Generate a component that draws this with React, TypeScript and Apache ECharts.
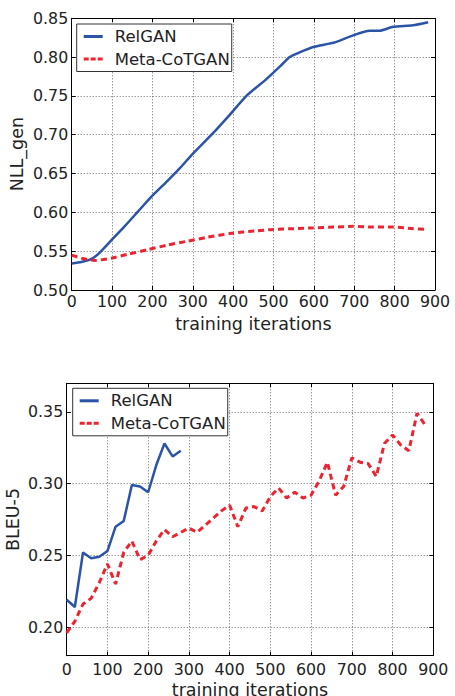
import React, { useEffect, useRef } from "react";
import * as echarts from "echarts";

// ---------- data ----------
const legendNames = ["RelGAN", "Meta-CoTGAN"];
const xTitle = "training iterations";
const topYTitle = "NLL_gen";
const bottomYTitle = "BLEU-5";

// top chart: NLL_gen vs training iterations
const topRelGAN: [number, number][] = [
  [0, 0.534], [24, 0.536], [45, 0.539], [65, 0.546], [98, 0.564], [131, 0.582],
  [164, 0.601], [197, 0.62], [238, 0.641], [268, 0.657], [301, 0.676], [350, 0.702],
  [392, 0.726], [433, 0.75], [483, 0.772], [516, 0.788], [540, 0.8], [560, 0.805],
  [598, 0.813], [652, 0.819], [697, 0.828], [738, 0.834], [763, 0.834], [796, 0.839],
  [845, 0.841], [883, 0.845],
];
const topMeta: [number, number][] = [
  [0, 0.545], [24, 0.541], [57, 0.538], [98, 0.541], [139, 0.546], [189, 0.552],
  [238, 0.558], [288, 0.563], [337, 0.568], [395, 0.573], [453, 0.576], [499, 0.578],
  [550, 0.579], [598, 0.58], [650, 0.581], [697, 0.582], [747, 0.581], [796, 0.581],
  [846, 0.579], [879, 0.578],
];

// bottom chart: BLEU-5, evaluated every 20 iterations
const bottomRelGANIters = [0, 20, 40, 60, 80, 100, 120, 140, 160, 180, 200, 220, 240, 260, 280];
const bottomRelGANVals = [0.219, 0.214, 0.252, 0.248, 0.249, 0.253, 0.27, 0.274, 0.299, 0.298, 0.294, 0.313, 0.328, 0.319, 0.323];
const bottomMetaIters = [
  0, 20, 40, 60, 80, 100, 120, 140, 160, 180, 200, 220, 240, 260, 280, 300, 320, 340, 360, 380,
  400, 420, 440, 460, 480, 500, 520, 540, 560, 580, 600, 620, 640, 660, 680, 700, 720, 740, 760,
  780, 800, 820, 840, 860, 880,
];
const bottomMetaVals = [
  0.196, 0.204, 0.216, 0.22, 0.231, 0.244, 0.23, 0.252, 0.26, 0.247, 0.25, 0.26, 0.268, 0.263,
  0.266, 0.269, 0.266, 0.271, 0.276, 0.281, 0.285, 0.27, 0.283, 0.284, 0.281, 0.291, 0.297,
  0.29, 0.294, 0.29, 0.292, 0.302, 0.315, 0.292, 0.298, 0.318, 0.315, 0.314, 0.305, 0.328,
  0.334, 0.327, 0.323, 0.349, 0.341,
];

const BLUE = "#2b54a6";
const RED = "#ec2430";
const FONT = "DejaVu Sans";
const TXT = "#222";

export default function App() {
  const ref = useRef<HTMLDivElement>(null);
  useEffect(() => {
    if (!ref.current) return;
    const chart = echarts.init(ref.current, undefined, { renderer: "svg" });
    const fmt = (v: number) => v.toFixed(2);
    const gridLine = { show: true, lineStyle: { type: [1, 2] as any, color: "#444", width: 0.8 } };
    const tick = { show: true, inside: true, length: 4, lineStyle: { color: "#000", width: 1 } };
    const line = { show: true, onZero: false, lineStyle: { color: "#000", width: 1 } };
    const nameStyle = { fontSize: 17.5, fontFamily: FONT, color: TXT };
    const labelStyle = { fontSize: 15.8, fontFamily: FONT, color: TXT };

    const xMain = (gridIndex: number, margin: number) => ({
      type: "value", gridIndex, min: 0, max: 900, interval: 100, position: "bottom",
      axisLine: line, axisTick: tick, splitLine: gridLine,
      axisLabel: { ...labelStyle, margin },
      name: xTitle, nameLocation: "middle", nameGap: 25, nameMoveOverlap: false, nameTextStyle: nameStyle,
    });
    const xTop = (gridIndex: number) => ({
      type: "value", gridIndex, min: 0, max: 900, interval: 100, position: "top",
      axisLine: line, axisTick: tick, splitLine: { show: false }, axisLabel: { show: false },
    });

    const solidIcon = "path://M0,0h19v3h-19z";
    const dashIcon = "path://M0,0h5v3h-5z M7,0h5v3h-5z M14,0h5v3h-5z";
    const legendBase = {
      orient: "vertical",
      data: [
        { name: legendNames[0], icon: solidIcon },
        { name: legendNames[1], icon: dashIcon },
      ],
      borderColor: "#333", borderWidth: 1,
      borderRadius: 0, padding: [4, 2, 4, 7], itemGap: 5.5, itemWidth: 19, itemHeight: 3,
      backgroundColor: "#fff", selectedMode: false,
      textStyle: { fontSize: 16.5, fontFamily: FONT, color: TXT, padding: [0, 0, 0, 7], lineHeight: 17 },
    };

    chart.setOption({
      animation: false,
      grid: [
        { left: 71.7, top: 18.3, width: 363.3, height: 271.7, outerBoundsMode: "none", containLabel: false },
        { left: 66.7, top: 383.3, width: 366.6, height: 272.4, outerBoundsMode: "none", containLabel: false },
      ],
      xAxis: [xMain(0, 3), xTop(0), xMain(1, 6), xTop(1)],
      yAxis: [
        {
          type: "value", gridIndex: 0, min: 0.5, max: 0.85, interval: 0.05, position: "left",
          axisLine: line, axisTick: tick, splitLine: gridLine,
          axisLabel: { ...labelStyle, margin: 3.5, formatter: fmt },
          name: topYTitle, nameLocation: "middle", nameGap: 46, nameMoveOverlap: false, nameTextStyle: nameStyle,
        },
        {
          type: "value", gridIndex: 0, min: 0.5, max: 0.85, interval: 0.05, position: "right",
          axisLine: line, axisTick: tick, splitLine: { show: false }, axisLabel: { show: false },
        },
        {
          type: "value", gridIndex: 1, min: 0.18, max: 0.37, splitNumber: 4, position: "left",
          axisLine: line, axisTick: tick, splitLine: gridLine,
          axisLabel: { ...labelStyle, margin: 3.5, formatter: fmt, showMinLabel: false, showMaxLabel: false },
          name: bottomYTitle, nameLocation: "middle", nameGap: 44.5, nameMoveOverlap: false, nameTextStyle: nameStyle,
        },
        {
          type: "value", gridIndex: 1, min: 0.18, max: 0.37, splitNumber: 4, position: "right",
          axisLine: line, axisTick: tick, splitLine: { show: false }, axisLabel: { show: false },
        },
      ],
      legend: [
        { ...legendBase, left: 76.7, top: 24 },
        { ...legendBase, left: 72.7, top: 388.3 },
      ],
      series: [
        {
          type: "line", name: legendNames[0], xAxisIndex: 0, yAxisIndex: 0, data: topRelGAN,
          symbol: "none", smooth: 0.2, lineStyle: { color: BLUE, width: 2.5 }, itemStyle: { color: BLUE },
        },
        {
          type: "line", name: legendNames[1], xAxisIndex: 0, yAxisIndex: 0, data: topMeta,
          symbol: "none", smooth: 0.2, lineStyle: { color: RED, width: 3, type: [6, 4] }, itemStyle: { color: RED },
        },
        {
          type: "line", name: legendNames[0], xAxisIndex: 2, yAxisIndex: 2,
          data: bottomRelGANIters.map((x, i) => [x, bottomRelGANVals[i]]),
          symbol: "none", lineStyle: { color: BLUE, width: 2.5 }, itemStyle: { color: BLUE },
        },
        {
          type: "line", name: legendNames[1], xAxisIndex: 2, yAxisIndex: 2,
          data: bottomMetaIters.map((x, i) => [x, bottomMetaVals[i]]),
          symbol: "none", lineStyle: { color: RED, width: 3, type: [6, 4] }, itemStyle: { color: RED },
        },
      ],
    });
    return () => chart.dispose();
  }, []);
  return (
    <div
      ref={ref}
      style={{ position: "fixed", left: 0, top: 0, width: 455, height: 696, background: "#fff" }}
    />
  );
}
